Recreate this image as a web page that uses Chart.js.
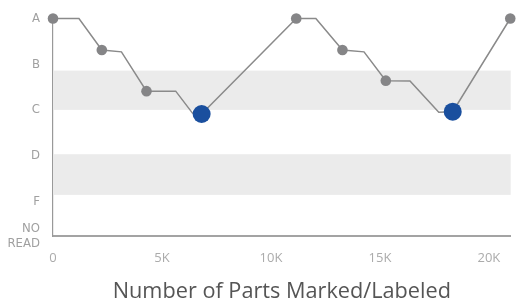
<!DOCTYPE html>
<html>
<head>
<meta charset="utf-8">
<script src="https://cdn.jsdelivr.net/npm/chart.js@4.4.1/dist/chart.umd.min.js"></script>
<style>
html,body{margin:0;padding:0;background:#fff}
#wrap{width:516px;height:303px}
</style>
</head>
<body>
<div id="wrap"><canvas id="chart_grade"></canvas></div>
<script>
// ----------------------------------------------------------------------
//  data
// ----------------------------------------------------------------------
var partsMarked = [0, 1190, 2240, 3140, 4290, 5630, 6400, 6820, 11160, 12060, 13280, 14270, 15270, 16380, 17700, 18340, 20980];
var gradeLevel  = [5, 5, 4.31, 4.27, 3.41, 3.41, 2.93, 2.91, 5, 5, 4.31, 4.27, 3.64, 3.63, 2.95, 2.96, 5];
var grayMarkers = [0, 2, 4, 8, 10, 12, 16];
var blueMarkers = [7, 15];

var gradeTicks  = [0.24, 1, 2, 3, 4, 5];
var gradeLabels = [['NO', 'READ'], 'F', 'D', 'C', 'B', 'A'];
var partsTicks  = [0, 5000, 10000, 15000, 20000];
var partsLabels = ['0', '5K', '10K', '15K', '20K'];
var shadedBands = [[3, 3.86], [1.14, 2.03]];

// ----------------------------------------------------------------------
//  chart
// ----------------------------------------------------------------------
var bandPlugin = {
	id: 'bands',
	beforeDatasetsDraw: function(chart){
		var ctx = chart.ctx, area = chart.chartArea, y = chart.scales.y;
		ctx.save();
		ctx.fillStyle = '#ebebeb';
		shadedBands.forEach(function(b){
			var top = y.getPixelForValue(b[1]), bottom = y.getPixelForValue(b[0]);
			ctx.fillRect(area.left, top, area.right - area.left, bottom - top);
		});
		ctx.restore();
	}
};

var points = partsMarked.map(function(x, i){ return {x: x, y: gradeLevel[i]}; });

var radius = points.map(function(p, i){
	if (blueMarkers.indexOf(i) >= 0) return 9;
	if (grayMarkers.indexOf(i) >= 0) return 5.3;
	return 0;
});
var fill = points.map(function(p, i){
	return blueMarkers.indexOf(i) >= 0 ? '#1a4f9e' : '#858587';
});

var ctx = document.getElementById('chart_grade').getContext('2d');
var myChart = new Chart(ctx, {
	type: 'line',
	data: {
		datasets: [{
			data: points,
			borderColor: '#8a8a8a',
			borderWidth: 1.5,
			tension: 0,
			pointRadius: radius,
			pointHoverRadius: radius,
			pointBackgroundColor: fill,
			pointBorderWidth: 0,
			clip: false
		}]
	},
	options: {
		responsive: true,
		maintainAspectRatio: false,
		animation: false,
		events: [],
		layout: {padding: {top: 18.5, right: 4, left: 0, bottom: 0}},
		plugins: {legend: {display: false}, tooltip: {enabled: false}},
		scales: {
			x: {
				type: 'linear',
				min: 0,
				max: 21000,
				afterBuildTicks: function(scale){
					scale.ticks = partsTicks.map(function(v){ return {value: v}; });
				},
				afterFit: function(scale){ scale.height = 67; },
				grid: {display: false, drawTicks: false},
				border: {display: true, color: '#a3a3a3', width: 2},
				ticks: {
					padding: 14,
					color: '#ababab',
					font: {family: 'Open Sans', size: 13},
					callback: function(v, i){ return partsLabels[i]; }
				},
				title: {
					display: true,
					text: 'Number of Parts Marked/Labeled',
					color: '#555555',
					font: {family: 'Open Sans', size: 21.7, lineHeight: 1},
					padding: {top: 0, bottom: 0.5}
				}
			},
			y: {
				type: 'linear',
				min: 0.24,
				max: 5,
				afterBuildTicks: function(scale){
					scale.ticks = gradeTicks.map(function(v){ return {value: v}; });
				},
				afterFit: function(scale){
					scale.width = 53;
					// tick padding would otherwise push the plot top down
					scale.paddingTop = 0;
					scale.paddingBottom = 0;
				},
				grid: {display: false, drawTicks: false},
				border: {display: true, color: '#999999', width: 1.2},
				ticks: {
					padding: 13,
					color: '#a0a0a0',
					font: {family: '"DejaVu Sans Condensed", "Liberation Sans Narrow", "Roboto", sans-serif', size: 13, lineHeight: 1.2},
					callback: function(v, i){ return gradeLabels[i]; }
				}
			}
		}
	},
	plugins: [bandPlugin]
});
</script>
</body>
</html>
